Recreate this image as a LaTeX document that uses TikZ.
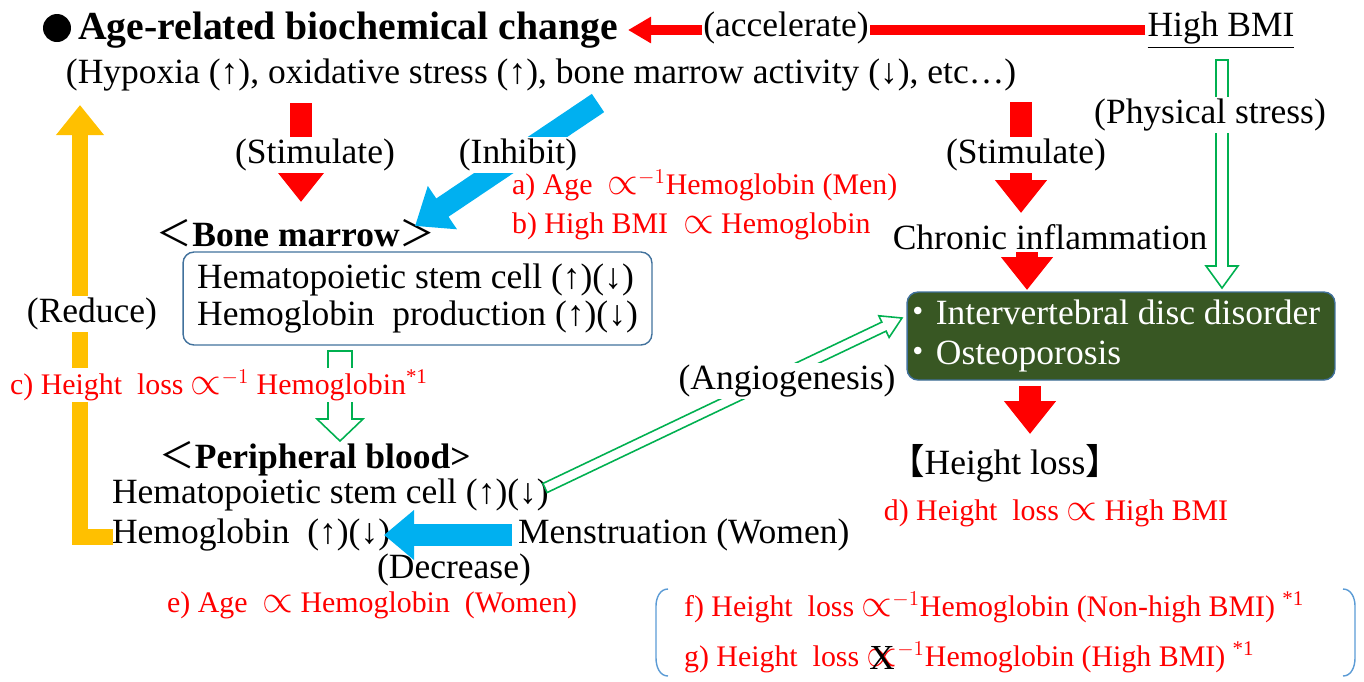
\documentclass[tikz,border=0pt]{standalone}
\usepackage{fontspec}
\usepackage{graphicx}
\setmainfont{Liberation Serif}
\newfontfamily\cjk{Noto Sans CJK JP}
\usetikzlibrary{calc,arrows.meta}
\definecolor{myred}{HTML}{FF0000}
\definecolor{myblue}{HTML}{00B0F0}
\definecolor{myyellow}{HTML}{FFC000}
\definecolor{mygreen}{HTML}{00B050}
\definecolor{boxgreen}{HTML}{385723}
\definecolor{boxblue}{HTML}{41719C}
\definecolor{parblue}{HTML}{5B9BD5}
\newcommand\cj[1]{{\cjk #1}}
\newcommand\prp{\scalebox{1.3}{$\propto$}}
\newcommand\xprop{\ooalign{\prp\cr\hidewidth\raisebox{-0.1em}{\textcolor{black}{\fontsize{20}{20}\selectfont X}}\hidewidth\cr}}
\newcommand\hollowarrow[5]{%
  \path ($(#2)!#5*0.02cm!(#1)$) coordinate (hwBase);
  \draw[draw=mygreen, fill=white, line width=0.9pt, line join=miter]
    ($(#1)!#3*0.02cm!90:(#2)$) -- ($(hwBase)!#3*0.02cm!90:(#2)$) --
    ($(hwBase)!#4*0.02cm!90:(#2)$) -- (#2) --
    ($(hwBase)!#4*0.02cm!-90:(#2)$) -- ($(hwBase)!#3*0.02cm!-90:(#2)$) --
    ($(#1)!#3*0.02cm!-90:(#2)$) -- cycle;}
\begin{document}
\begin{tikzpicture}[x=0.02cm,y=-0.02cm,
  body/.style={font=\fontsize{20.2}{21}\selectfont, inner sep=1pt},
  ttl/.style={font=\fontsize{22.6}{26}\selectfont\bfseries, inner sep=1pt},
  redt/.style={font=\fontsize{17}{20}\selectfont, text=myred, inner sep=1pt},
  lbl/.style={body, fill=white},
  redarr/.style={draw=myred, line width=0.44cm, -{Triangle[length=0.66cm,width=1.0cm]}},
  bluearr/.style={draw=myblue, line width=0.44cm, -{Triangle[length=0.66cm,width=1.0cm]}},
]
\useasboundingbox (0,0) rectangle (1364,681);

% ---------- text nodes ----------
\node[circle, fill=black, minimum size=0.56cm, inner sep=0] (dot) at (57,28) {};
\node[ttl, anchor=west] (title) at (76,30) {Age-related biochemical change};
\node[body] (hbmi) at (1221,30) {\underline{High BMI}};
\node[body] (hyp) at (541,75) {(Hypoxia (↑), oxidative stress (↑), bone marrow activity (↓), etc…)};
\node[body] (bm) at (296,233) {\cj{＜}\textbf{Bone marrow}\cj{＞}};
\node[body, draw=boxblue, line width=0.8pt, rounded corners=0.22cm, minimum width=9.38cm, minimum height=1.86cm, align=left, inner xsep=0.28cm] (bmbox) at (417.5,298.5)
  {Hematopoietic stem cell (↑)(↓)\\Hemoglobin\ \ production (↑)(↓)};
\node[redt, anchor=west] (ta) at (510,185) {a) Age \ \prp$^{-1}$Hemoglobin (Men)};
\node[redt, anchor=west] (tb) at (510,226) {b) High BMI \ \prp\ Hemoglobin};
\node[body] (chron) at (1050,237) {Chronic inflammation};
\node[body, fill=boxgreen, draw=boxblue, line width=0.8pt, rounded corners=0.22cm, text=white, align=left, inner xsep=0.06cm, minimum width=8.56cm, minimum height=1.76cm, font=\fontsize{20.2}{22.8}\selectfont] (disc) at (1121,336)
  {\makebox[8.4cm][l]{\hspace*{-0.3em}\cj{・}Intervertebral disc disorder}\\\hspace*{-0.3em}\cj{・}Osteoporosis};
\node[body] (hl) at (1005,463) {\cj{【}Height loss\cj{】}};
\node[redt] (td) at (1056,513) {d) Height\ \ loss \prp\ High BMI};
\node[body] (pb) at (315,459) {\cj{＜}\textbf{Peripheral blood>}};
\node[body, anchor=west] (hsc) at (110,495) {Hematopoietic stem cell (↑)(↓)};
\node[body, anchor=west] (hb) at (110,535) {Hemoglobin\ \ (↑)(↓)};
\node[body, anchor=west] (mens) at (516,535) {Menstruation (Women)};
\node[body] (dec) at (454,570) {(Decrease)};
\node[redt] (te) at (372,605) {e) Age \ \prp\ Hemoglobin\ \ (Women)};
\node[redt, anchor=west] (tf) at (682,607) {f) Height\ \ loss \prp$^{-1}$Hemoglobin (Non-high BMI) \textsuperscript{*1}};
\node[redt, anchor=west] (tg) at (682,657) {g) Height\ \ loss \xprop$^{-1}$Hemoglobin (High BMI) \textsuperscript{*1}};

% ---------- connectors ----------
\coordinate (accTip) at (628,30);
\draw[myred, line width=0.2cm, -{Triangle[length=0.46cm,width=0.5cm]}] (hbmi.west) -- (accTip);

\coordinate (sLa) at (301,103); \coordinate (sLb) at (301,202);
\draw[redarr] (sLa) -- (sLb);
\coordinate (inA) at (598,103); \coordinate (inB) at (415,226);
\draw[bluearr] (inA) -- (inB);
\coordinate (sRa) at (1021,102); \coordinate (sRb) at (1021,213);
\draw[redarr] (sRa) -- (sRb);
\coordinate (cA) at (1027,252); \coordinate (cB) at (1027,290);
\draw[redarr] (cA) -- (cB);
\coordinate (dA) at (1030,386); \coordinate (dB) at (1030,434);
\draw[redarr] (dA) -- (dB);

\coordinate (yA) at (113,537); \coordinate (yTip) at (80,105);
\draw[myyellow, line width=0.32cm, line join=miter, -{Triangle[length=0.6cm,width=0.92cm]}] (yA) -| (yTip);

\coordinate (mA) at (512,535); \coordinate (mB) at (384,535);
\draw[draw=myblue, line width=0.44cm, -{Triangle[length=0.6cm,width=0.96cm]}] (mA) -- (mB);

\coordinate (phA) at (1222,60); \coordinate (phB) at (1222,288);
\hollowarrow{phA}{phB}{6}{16}{22}
\coordinate (gA) at (340,351); \coordinate (gB) at (340,441);
\hollowarrow{gA}{gB}{12}{23}{22}
\coordinate (anA) at (545,488); \coordinate (anB) at (902,318);
\hollowarrow{anA}{anB}{5}{12}{20}

% ---------- labels over connectors ----------
\node[lbl] (acc) at (786,28) {(accelerate)};
\node[lbl] (stL) at (315,155) {(Stimulate)};
\node[lbl] (inh) at (518,155) {(Inhibit)};
\node[lbl] (stR) at (1026,155) {(Stimulate)};
\node[lbl] (phys) at (1210,115) {(Physical stress)};
\node[lbl] (red) at (92,314) {(Reduce)};
\node[redt, fill=white, anchor=west] (tc) at (8,385) {c) Height\ \ loss \prp$^{-1}$ Hemoglobin\textsuperscript{*1}};
\node[lbl] (ang) at (787,381) {(Angiogenesis)};

% ---------- brackets round f) and g) ----------
\draw[parblue, line width=0.8pt] (668,589) to[out=180,in=90] (656,606) -- (656,658) to[out=-90,in=180] (668,676);
\draw[parblue, line width=0.8pt] (1343,589) to[out=0,in=90] (1355,606) -- (1355,658) to[out=-90,in=0] (1343,676);
\end{tikzpicture}
\end{document}
